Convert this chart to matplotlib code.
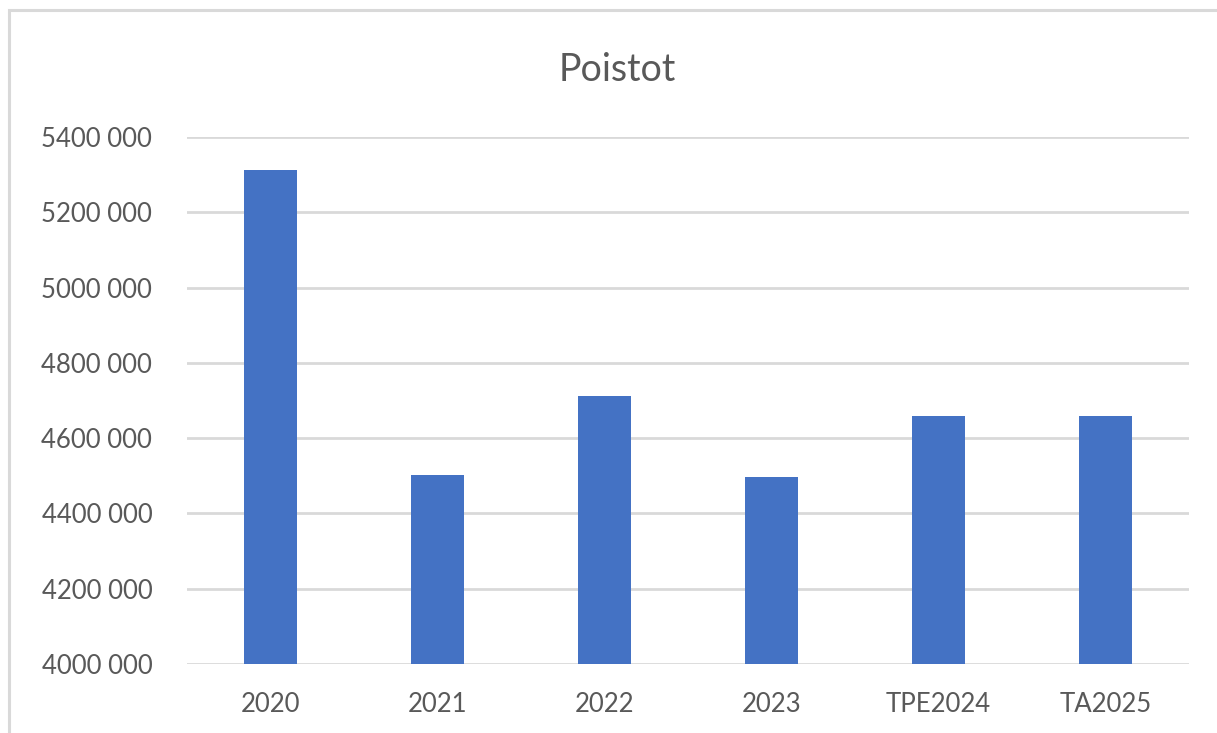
import matplotlib.pyplot as plt
from matplotlib.ticker import FuncFormatter
from matplotlib.patches import Rectangle

# data
categories = ["2020", "2021", "2022", "2023", "TPE2024", "TA2025"]
values = [5312000, 4503000, 4711000, 4498000, 4660000, 4660000]
y_ticks = [4000000, 4200000, 4400000, 4600000, 4800000, 5000000, 5200000, 5400000]

plt.rcParams['font.family'] = ['Lato', 'DejaVu Sans']
text_col = '#595959'
grid_col = '#d9d9d9'

fig = plt.figure(figsize=(12.17, 7.33), dpi=100)
ax = fig.add_axes([187/1217, 1-664/733, (1189-187)/1217, (664-137)/733])

# chart border (only top and left edges show)
fig.add_artist(Rectangle((8.5/1217, -0.1), 1.2, 1 - 10/733 + 0.1, transform=fig.transFigure,
                         fill=False, edgecolor=grid_col, linewidth=2.2))

x = range(len(categories))
ax.bar(x, values, width=0.32, color='#4472C4', zorder=3)

ax.set_xlim(-0.5, len(categories) - 0.5)
ax.set_ylim(4000000, 5400000)
ax.set_yticks(y_ticks)
ax.yaxis.set_major_formatter(FuncFormatter(lambda v, p: "%d %03d" % (int(v) // 1000, int(v) % 1000)))
ax.set_xticks(list(x))
ax.set_xticklabels(categories)
ax.grid(axis='y', color=grid_col, linewidth=2, zorder=0)
for s in ax.spines.values():
    s.set_visible(False)
ax.tick_params(length=0, labelsize=18.5, labelcolor=text_col)
ax.tick_params(axis='y', pad=25)
ax.tick_params(axis='x', pad=20)

fig.text(617/1217, 1-70/733, "Poistot", ha='center', va='center', fontsize=27, color=text_col)

fig.savefig("out.png", dpi=100)
